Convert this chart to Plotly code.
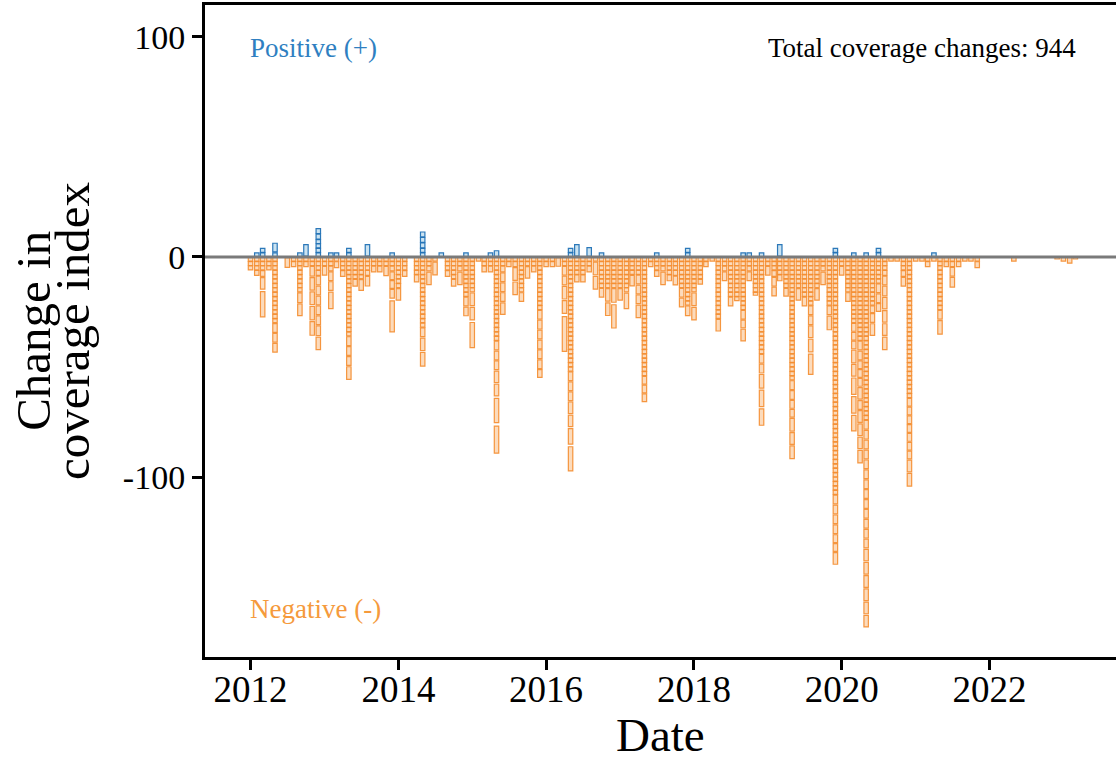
import pandas as pd
import plotly.graph_objects as go

# Monthly coverage changes; each number is the size of one change in a month.
months = pd.date_range("2012-01-01", periods=135, freq="MS")

neg_changes = [
    # 2012
    [2, 2, 2], [2, 2, 2, 2.5], [2, 2, 2, 3, 6, 13], [2, 2, 2],
    [2] * 15 + [4.5, 4.5, 4.5], [], [5], [2, 2.5],
    [2] * 8 + [5, 6], [2, 2.5], [2, 2, 5, 6.5, 6.5, 7, 7],
    [2, 2, 2, 2.5, 4.5, 4.5, 4.5, 4.5, 4.5, 5, 6.5],
    # 2013
    [2, 2, 4.5], [2, 2, 2.5, 4.5, 4.5, 8.5], [2, 3], [2, 2, 2, 3],
    [2] * 18 + [4.5, 4.5, 4.5, 6.5], [2, 2, 2, 2, 2, 3.5], [2, 2, 2, 2, 2, 5.5],
    [2, 2, 2, 2.5, 5], [2, 2, 3], [2, 2, 3], [2, 2, 4.8],
    [2, 2, 2.5, 4, 4, 4.5, 16],
    # 2014
    [2] * 7 + [6], [2, 2, 2, 3], [], [2, 2, 2, 2, 3.5],
    [2] * 16 + [4.5, 6.5, 7], [2, 2, 2.5, 6.5], [2, 6.5], [],
    [2, 2, 2, 3], [2, 2, 2, 2, 2, 3.5], [2, 2, 2.5, 6.5], [2] * 9 + [4.5, 4.5],
    # 2015
    [2] * 8 + [6.5, 6.5, 13], [2], [2, 2, 3], [2, 2, 3],
    [2] * 19 + [4.5, 4.5, 4.5, 6, 6, 12.5, 14], [2, 2, 3, 4.5, 4.5, 4.5, 6],
    [2, 2.5], [2, 2.5, 6.5, 6.5], [2] * 8 + [4.5], [2, 2, 6], [2, 2, 3],
    [2] * 12 + [4.5] * 6 + [4],
    # 2016
    [2, 2.5], [2, 2.5], [4.5], [2, 2, 4.5, 4.5, 6.5, 6.5, 18],
    [2] * 26 + [4.5, 4.5, 4.5, 6, 6, 8, 12.5], [2, 2, 2, 2, 3.5],
    [2, 2, 2, 2, 3.5], [2, 2, 3], [2, 6.5, 6.5], [2] * 7 + [4.5],
    [2] * 7 + [6.5, 6.5], [2] * 7 + [7, 12],
    # 2017
    [2] * 7 + [6], [2] * 8 + [8], [2, 2, 2, 2, 5.5],
    [2, 2, 2, 2, 4.5, 4.5, 4.5, 6.5], [2] * 27 + [4, 4, 4], [2, 2.5],
    [2, 2, 2, 3], [2, 2, 2.5, 6.5], [2, 2, 2, 2, 3], [2, 2, 2, 2.5, 4.5],
    [2] * 7 + [4.5, 4.5], [2] * 11 + [5],
    # 2018
    [2] * 8 + [6.5, 6.5], [2, 2, 2, 2, 2, 2.5], [2, 2.5], [2],
    [2] * 14 + [6], [2, 2, 2.5, 4.5], [2] * 9 + [4.5], [2] * 10,
    [2] * 12 + [4.5, 4, 6], [2, 2, 2.5, 4.5], [2] * 8 + [1.5],
    [2] * 22 + [4.5, 4.5, 7, 8.5, 8.5],
    # 2019
    [2, 2, 4.5], [2, 2, 2, 3, 4.5, 4.5], [2, 2, 2, 2, 3], [2] * 7 + [4],
    [2] * 28 + [4.5, 4.5, 4, 4, 6.5, 6, 6.5], [2] * 7 + [6], [2] * 9 + [4.5],
    [2] * 11 + [4.5, 4.5, 6, 6.5, 10.5], [2] * 7 + [6], [2, 2, 2.5, 6.5],
    [2] * 11 + [4.5, 7], [2] * 54 + [4.5, 4.5, 4.5, 4.5, 4, 4, 6],
    # 2020
    [2, 2, 4.5], [2] * 8 + [4.5], [2] * 15 + [4, 4, 4, 6.5, 6, 8.5, 8.5, 8],
    [2] * 19 + [4.5, 4.5, 4, 4, 4, 6, 4.5, 6, 6, 6, 6.5],
    [2] * 37 + [4.5] * 13 + [6] * 6, [2] * 11 + [3.5, 4.5, 6],
    [2] * 6 + [4.5, 4.5, 4], [2, 2, 2, 2.5, 4.5, 5, 6, 6, 6, 6.5], [2], [2],
    [2, 2, 2, 3, 4.5], [2] * 32 + [4, 4, 4, 4, 4, 4, 4, 6, 6.5],
    # 2021
    [2], [2], [2, 2.5], [2], [2] * 12 + [4.5, 7], [2, 2.5],
    [2, 2.5, 4.5, 5], [2, 2.5], [2], [2], [2, 3], [],
    # 2022
    [], [], [], [], [2], [], [], [], [], [], [], [1],
    # 2023
    [2], [3], [1],
]

pos_changes = [
    # 2012
    [], [2], [2, 2], [], [2, 4.5], [], [], [], [2], [6], [], [2, 2, 2, 2, 2.5, 2.5],
    # 2013
    [], [2], [2], [], [2, 2], [], [], [6], [], [], [], [2],
    # 2014
    [], [], [], [], [2, 2, 2.5, 2.5, 2.5], [], [], [2], [], [], [], [2],
    # 2015
    [], [], [], [2], [3], [], [], [], [], [], [], [],
    # 2016
    [], [], [], [], [2, 2], [6], [], [4.5], [], [2], [], [],
    # 2017
    [], [], [], [], [], [], [2], [], [], [], [], [2, 2],
    # 2018
    [], [], [], [], [], [], [], [], [2], [2], [], [2],
    # 2019
    [], [], [6], [], [], [], [], [], [], [], [], [2, 2],
    # 2020
    [], [], [2], [], [2], [], [2, 2], [], [], [], [], [],
    # 2021
    [], [], [], [2], [], [], [], [], [], [], [], [],
    # 2022
    [], [], [], [], [], [], [], [], [], [], [], [],
    # 2023
    [], [], [],
]

year_ticks = ["2012", "2014", "2016", "2018", "2020", "2022"]
y_ticks = [-100, 0, 100]
y_tick_text = ["-100", "0", "100"]
total_label = "Total coverage changes: 944"

FONT = "Liberation Serif"
ORANGE_LINE = "rgba(244,140,45,0.9)"
ORANGE_FILL = "rgba(247,150,60,0.34)"
BLUE_LINE = "rgba(33,113,181,0.95)"
BLUE_FILL = "rgba(107,174,214,0.35)"


def stack_segments(month_list, change_lists, sign):
    """Stack each month's changes as separate blocks away from zero."""
    xs, bases, heights = [], [], []
    for month, sizes in zip(month_list, change_lists):
        level = 0.0
        for size in sizes:
            pad = 0.06 * size
            xs.append(month)
            bases.append(sign * (level + pad))
            heights.append(sign * (size - 2 * pad))
            level += size
    return xs, bases, heights


bar_width = 22 * 24 * 3600 * 1000  # ms

fig = go.Figure()
for changes, sign, fill, line in [
    (neg_changes, -1, ORANGE_FILL, ORANGE_LINE),
    (pos_changes, 1, BLUE_FILL, BLUE_LINE),
]:
    xs, bases, heights = stack_segments(months, changes, sign)
    fig.add_trace(go.Bar(
        x=xs, y=heights, base=bases, width=bar_width,
        marker=dict(color=fill, line=dict(color=line, width=1.2)),
        hoverinfo="skip",
    ))

fig.add_shape(type="line", xref="paper", x0=0, x1=1, yref="y", y0=0, y1=0,
              line=dict(color="#7a7a7a", width=3), layer="above")

fig.add_annotation(text="Positive (+)", xref="paper", yref="paper", x=0.047, y=0.934,
                   xanchor="left", yanchor="middle", showarrow=False,
                   font=dict(family=FONT, size=27, color="#2f7fc1"))
fig.add_annotation(text="Negative (-)", xref="paper", yref="paper", x=0.047, y=0.074,
                   xanchor="left", yanchor="middle", showarrow=False,
                   font=dict(family=FONT, size=27, color="#f59a3c"))
fig.add_annotation(text=total_label, xref="paper", yref="paper", x=0.958, y=0.934,
                   xanchor="right", yanchor="middle", showarrow=False,
                   font=dict(family=FONT, size=27, color="black"))

# Axis titles, placed as annotations so the two y-title lines sit close together
fig.add_annotation(text="Date", xref="paper", yref="paper", x=0.5, y=-0.120,
                   xanchor="center", yanchor="middle", showarrow=False,
                   font=dict(family=FONT, size=47, color="black"))
for line_text, xpos in [("Change in", -0.189), ("coverage index", -0.146)]:
    fig.add_annotation(text=line_text, xref="paper", yref="paper", x=xpos, y=0.5,
                       xanchor="center", yanchor="middle", showarrow=False,
                       textangle=-90,
                       font=dict(family=FONT, size=49, color="black"))

fig.update_layout(
    width=1116, height=761,
    margin=dict(l=205, r=0, t=5, b=104),
    paper_bgcolor="white", plot_bgcolor="white",
    barmode="overlay", showlegend=False,
    font=dict(family=FONT, color="black"),
    xaxis=dict(
        type="date", range=["2011-05-21", "2023-09-18"],
        tickvals=[f"{y}-01-01" for y in year_ticks], ticktext=year_ticks,
        showline=True, linecolor="black", linewidth=3, mirror=True,
        ticks="outside", ticklen=10, tickwidth=3, tickcolor="black",
        tickfont=dict(size=37), showgrid=False, zeroline=False,
        ticklabelstandoff=-12, automargin=False,
    ),
    yaxis=dict(
        range=[-181.8, 114.5],
        tickvals=y_ticks, ticktext=y_tick_text,
        showline=True, linecolor="black", linewidth=3,
        ticks="outside", ticklen=10, tickwidth=3, tickcolor="black",
        tickfont=dict(size=34), showgrid=False, zeroline=False,
        automargin=False,
    ),
)

fig.write_html("out.html")
